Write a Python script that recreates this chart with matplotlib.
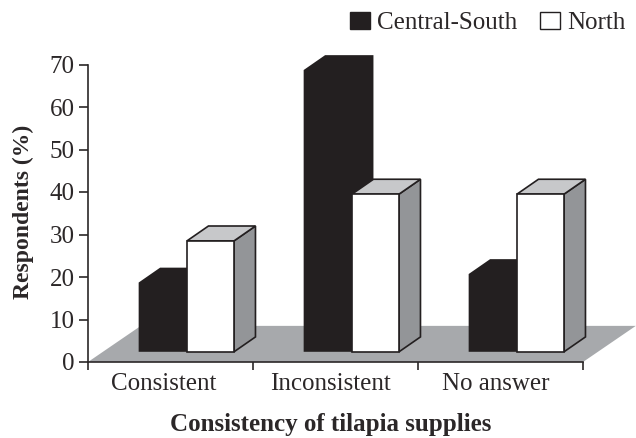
import matplotlib
matplotlib.use('Agg')
import matplotlib.pyplot as plt
from matplotlib.patches import Patch, Polygon

plt.rcParams['font.family'] = ['Liberation Serif', 'DejaVu Serif']

# Значения (передняя грань столбца по оси Y)
categories = ['Consistent', 'Inconsistent', 'No answer']
central_south = [18.7, 68.7, 20.7]
north = [28.5, 39.5, 39.5]
y_ticks = [0, 10, 20, 30, 40, 50, 60, 70]

# Псевдо-3D: сдвиг глубины и положение столбцов в единицах осей
DEPTH_X = 0.13
DEPTH_Y = 3.5
BASE_Y = 2.4
FLOOR_Y = 8.5
LEFT = 0.307
MID = 0.60
RIGHT = 0.885

BLACK = '#231f20'
TEXT = '#2b2728'
FLOOR = '#a7a9ac'
SIDE = '#939598'
TOP = '#c7c8ca'


def add_poly(ax, points, color, edge='none', z=2):
    ax.add_patch(Polygon(points, closed=True, facecolor=color, edgecolor=edge,
                         linewidth=1.2, joinstyle='miter', clip_on=False, zorder=z))


fig = plt.figure(figsize=(6.36, 4.38), dpi=100)
ax = fig.add_axes([88 / 636, (438 - 362) / 438, 495 / 636, 297.5 / 438])
ax.set_xlim(0, 3)
ax.set_ylim(0, 70)

# Пол диаграммы
add_poly(ax, [(0, 0), (3, 0), (3 + 0.32, FLOOR_Y), (0.32, FLOOR_Y)], FLOOR, z=1)

for i in range(len(categories)):
    # Чёрный столбец
    x0 = i + LEFT
    x1 = i + MID
    v = central_south[i]
    add_poly(ax, [(x0, BASE_Y), (x1, BASE_Y), (x1 + DEPTH_X, BASE_Y + DEPTH_Y),
                  (x1 + DEPTH_X, v + DEPTH_Y), (x0 + DEPTH_X, v + DEPTH_Y), (x0, v)],
             BLACK, z=3)

    # Белый столбец: боковая грань, верхняя грань, передняя грань
    x2 = i + RIGHT
    v = north[i]
    add_poly(ax, [(x2, BASE_Y), (x2 + DEPTH_X, BASE_Y + DEPTH_Y),
                  (x2 + DEPTH_X, v + DEPTH_Y), (x2, v)], SIDE, BLACK, z=4)
    add_poly(ax, [(x1, v), (x2, v), (x2 + DEPTH_X, v + DEPTH_Y),
                  (x1 + DEPTH_X, v + DEPTH_Y)], TOP, BLACK, z=4)
    add_poly(ax, [(x1, BASE_Y), (x2, BASE_Y), (x2, v), (x1, v)], 'white', BLACK, z=5)

# Оси
ax.spines['top'].set_visible(False)
ax.spines['right'].set_visible(False)
ax.spines['left'].set_linewidth(1.2)
ax.spines['bottom'].set_linewidth(1.2)
ax.spines['left'].set_color(TEXT)
ax.spines['bottom'].set_color(TEXT)
ax.patch.set_alpha(0)

ax.set_yticks(y_ticks)
ax.set_xticks([0, 1, 2, 3])
ax.set_xticklabels([])
ax.set_xticks([0.46, 1.47, 2.47], minor=True)
ax.set_xticklabels(categories, minor=True)
ax.tick_params(axis='y', length=6.5, width=1.2, color=TEXT, labelcolor=TEXT,
               labelsize=18, pad=3)
ax.tick_params(axis='x', which='major', length=6, width=1.2, color=TEXT)
ax.tick_params(axis='x', which='minor', length=0, labelcolor=TEXT, labelsize=18, pad=8)

fig.text(23 / 636, 1 - 212 / 438, 'Respondents (%)', rotation=90, ha='center', va='center',
         fontsize=17, fontweight='bold', color=TEXT)
fig.text(331 / 636, 1 - 424 / 438, 'Consistency of tilapia supplies', ha='center', va='center',
         fontsize=18, fontweight='bold', color=TEXT)

# Легенда
handles = [Patch(facecolor=BLACK, edgecolor=BLACK),
           Patch(facecolor='white', edgecolor=BLACK)]
fig.legend(handles, ['Central-South', 'North'], ncol=2, frameon=False,
           loc='upper right', bbox_to_anchor=(643 / 636, 1 + 6 / 438),
           fontsize=18, labelcolor=TEXT, handlelength=0.78, handleheight=0.7,
           handletextpad=0.3, columnspacing=0.9, borderpad=0.2)

fig.savefig('out.png', dpi=100)
